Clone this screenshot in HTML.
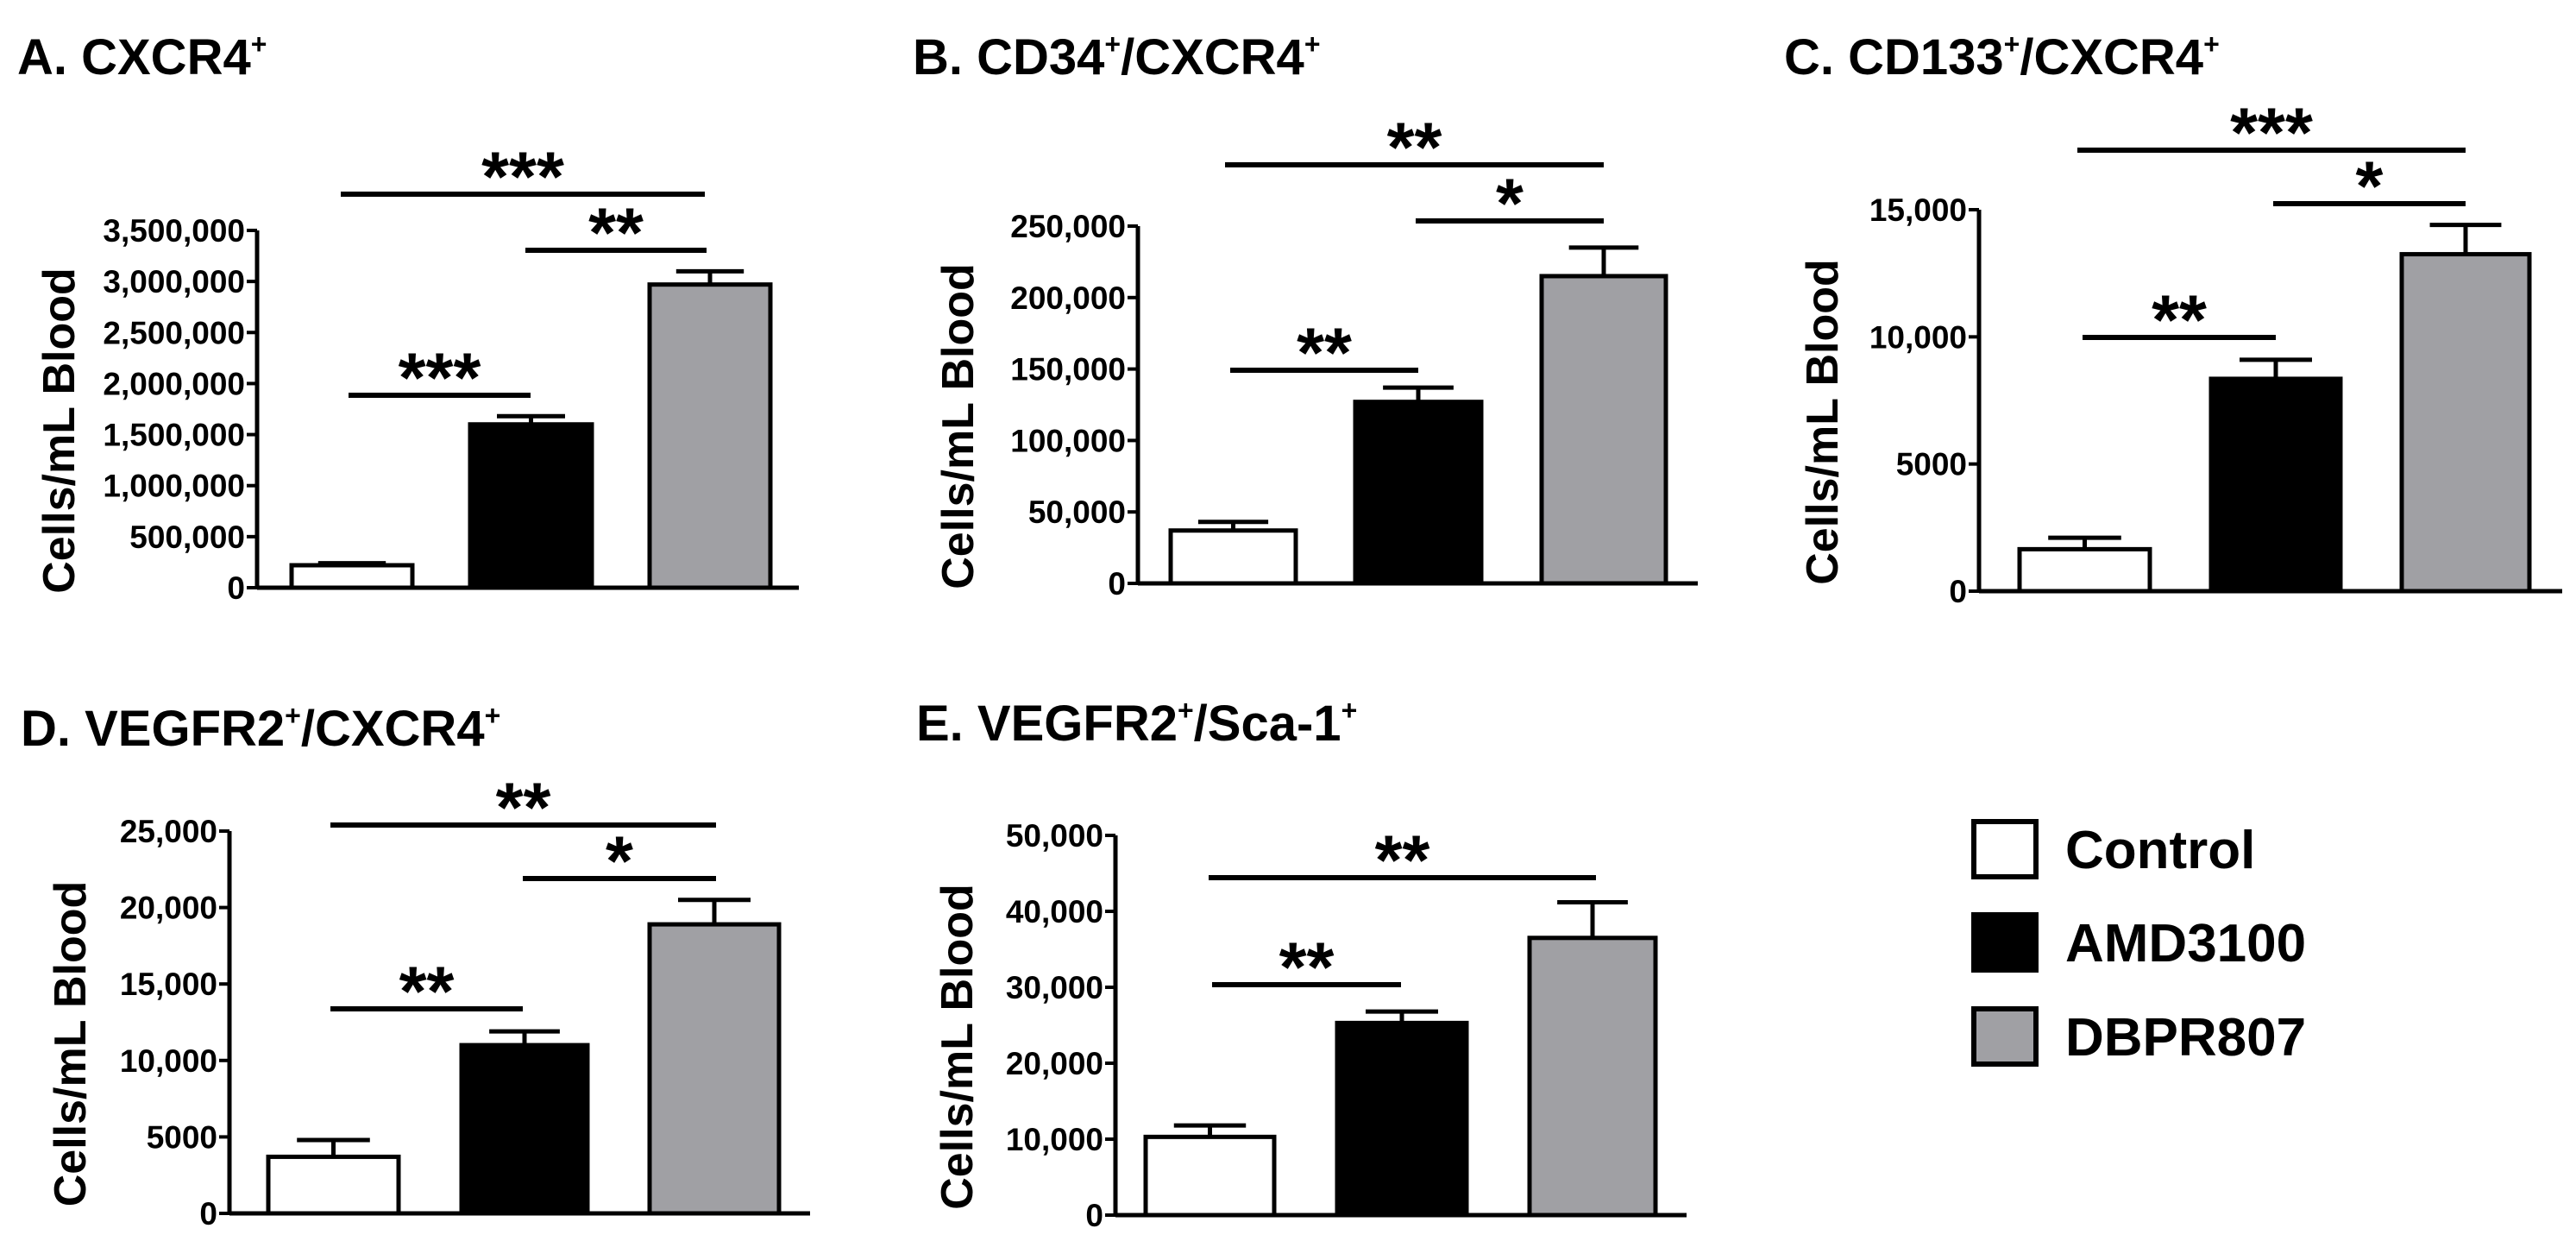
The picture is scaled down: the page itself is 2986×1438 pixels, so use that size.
<!DOCTYPE html>
<html><head><meta charset="utf-8"><style>
html,body{margin:0;padding:0;background:#fff;}
svg{display:block;}
text{font-family:"Liberation Sans",Arial,sans-serif;font-weight:bold;fill:#000;}
</style></head>
<body>
<svg id="fig" width="2986" height="1438" viewBox="0 0 2986 1438" xmlns="http://www.w3.org/2000/svg"></svg>
<script>
const groups = ["Control","AMD3100","DBPR807"];
const fills = ["#ffffff","#000000","#a0a0a4"];
const valsA = [220000,1600000,2970000];
const errA  = [240000,1680000,3100000];
const ticksA = [0,500000,1000000,1500000,2000000,2500000,3000000,3500000];
const tickLabA = ["0","500,000","1,000,000","1,500,000","2,000,000","2,500,000","3,000,000","3,500,000"];
const valsB = [37000,127000,215000];
const errB  = [43000,137000,235000];
const ticksB = [0,50000,100000,150000,200000,250000];
const tickLabB = ["0","50,000","100,000","150,000","200,000","250,000"];
const valsC = [1650,8350,13250];
const errC  = [2100,9100,14400];
const ticksC = [0,5000,10000,15000];
const tickLabC = ["0","5000","10,000","15,000"];
const valsD = [3700,11000,18900];
const errD  = [4800,11900,20500];
const ticksD = [0,5000,10000,15000,20000,25000];
const tickLabD = ["0","5000","10,000","15,000","20,000","25,000"];
const valsE = [10300,25300,36500];
const errE  = [11800,26800,41200];
const ticksE = [0,10000,20000,30000,40000,50000];
const tickLabE = ["0","10,000","20,000","30,000","40,000","50,000"];

const NS="http://www.w3.org/2000/svg";
const svg=document.getElementById('fig');
function mk(tag,attrs,parent){const e=document.createElementNS(NS,tag);for(const k in attrs)e.setAttribute(k,attrs[k]);(parent||svg).appendChild(e);return e;}

const panels=[
 {id:"a",title:"A.  CXCR4",title2:"",tx:20,ty:86,ax:298,y0:681,yTop:267,ymax:3500000,xr:926,bars:[[338,478],[545,686],[753,893]],vals:valsA,err:errA,ticks:ticksA,labs:tickLabA,lx:67,
  sig:[[395,817,225,"***"],[609,819,290,"**"],[404,615,458,"***"]]},
 {id:"b",title:"B.  CD34",title2:"/CXCR4",tx:1058,ty:86,ax:1319,y0:676,yTop:262,ymax:250000,xr:1968,bars:[[1357,1502],[1571,1717],[1787,1931]],vals:valsB,err:errB,ticks:ticksB,labs:tickLabB,lx:1109,
  sig:[[1420,1859,191,"**"],[1641,1859,256,"*"],[1426,1644,429,"**"]]},
 {id:"c",title:"C.  CD133",title2:"/CXCR4",tx:2068,ty:86,ax:2294,y0:685,yTop:243,ymax:15000,xr:2970,bars:[[2341,2492],[2563,2713],[2784,2932]],vals:valsC,err:errC,ticks:ticksC,labs:tickLabC,lx:2111,
  sig:[[2408,2858,174,"***"],[2635,2858,236,"*"],[2414,2638,391,"**"]]},
 {id:"d",title:"D.  VEGFR2",title2:"/CXCR4",tx:24,ty:864,ax:266,y0:1406,yTop:963,ymax:25000,xr:939,bars:[[311,462],[535,681],[753,903]],vals:valsD,err:errD,ticks:ticksD,labs:tickLabD,lx:80,
  sig:[[383,830,956,"**"],[606,830,1018,"*"],[383,606,1169,"**"]]},
 {id:"e",title:"E.  VEGFR2",title2:"/Sca-1",tx:1062,ty:858,ax:1293,y0:1408,yTop:968,ymax:50000,xr:1955,bars:[[1328,1477],[1550,1700],[1773,1919]],vals:valsE,err:errE,ticks:ticksE,labs:tickLabE,lx:1108,
  sig:[[1401,1850,1017,"**"],[1405,1624,1141,"**"]]}
];

panels.forEach(p=>{
  const g=mk('g',{});
  
  
  const yS=v=>p.y0-(v/p.ymax)*(p.y0-p.yTop);
  const t=mk('text',{x:p.tx,y:p.ty,'font-size':58},g);
  
  
  t.appendChild(document.createTextNode(p.title));
  const s1=mk('tspan',{'font-size':32,dy:-24},t);s1.textContent='+';
  if(p.title2){const s2=mk('tspan',{'font-size':58,dy:24},t);s2.textContent=p.title2;const s3=mk('tspan',{'font-size':32,dy:-24},t);s3.textContent='+';}
  const yl=mk('text',{x:0,y:0,'font-size':52,'text-anchor':'middle',transform:`translate(${p.lx+19},${(p.y0+p.yTop)/2+25}) rotate(-90)`},g);
  
  
  yl.textContent='Cells/mL Blood';
  p.vals.forEach((v,i)=>{
    const [x1,x2]=p.bars[i];
    const r=mk('rect',{x:x1,y:yS(v),width:x2-x1,height:p.y0-yS(v),fill:fills[i],stroke:'#000','stroke-width':5},g);
    
    
    const cx=(x1+x2)/2,cw=(x2-x1)*0.28;
    const e=mk('path',{d:`M${cx},${yS(v)} V${yS(p.err[i])} M${cx-cw},${yS(p.err[i])} H${cx+cw}`,stroke:'#000','stroke-width':5,fill:'none'},g);
    
    
  });
  const ax=mk('path',{d:`M${p.ax},${p.yTop} V${p.y0} M${p.ax},${p.y0} H${p.xr}`,stroke:'#000','stroke-width':5,fill:'none'},g);
  
  
  p.ticks.forEach((tv,i)=>{
    const y=yS(tv);
    const tk=mk('line',{x1:p.ax-12,x2:p.ax,y1:y,y2:y,stroke:'#000','stroke-width':4},g);
    
    
    const tl=mk('text',{x:p.ax-14,y:y+13,'font-size':37,'text-anchor':'end'},g);
    
    
    tl.textContent=p.labs[i];
  });
  p.sig.forEach(s=>{
    const l=mk('line',{x1:s[0],x2:s[1],y1:s[2],y2:s[2],stroke:'#000','stroke-width':6},g);
    
    
    const st=mk('text',{x:(s[0]+s[1])/2,y:s[2]+8,'font-size':82,'text-anchor':'middle'},g);
    
    
    st.textContent=s[3];
  });
});

const legY=[952,1060,1169];
const leg=mk('g',{});


groups.forEach((gname,i)=>{
  const r=mk('rect',{x:2288,y:legY[i],width:72,height:64,fill:fills[i],stroke:'#000','stroke-width':6},leg);
  
  
  const t=mk('text',{x:2394,y:legY[i]+54,'font-size':62},leg);
  
  
  t.textContent=gname;
});
</script>
</body></html>
